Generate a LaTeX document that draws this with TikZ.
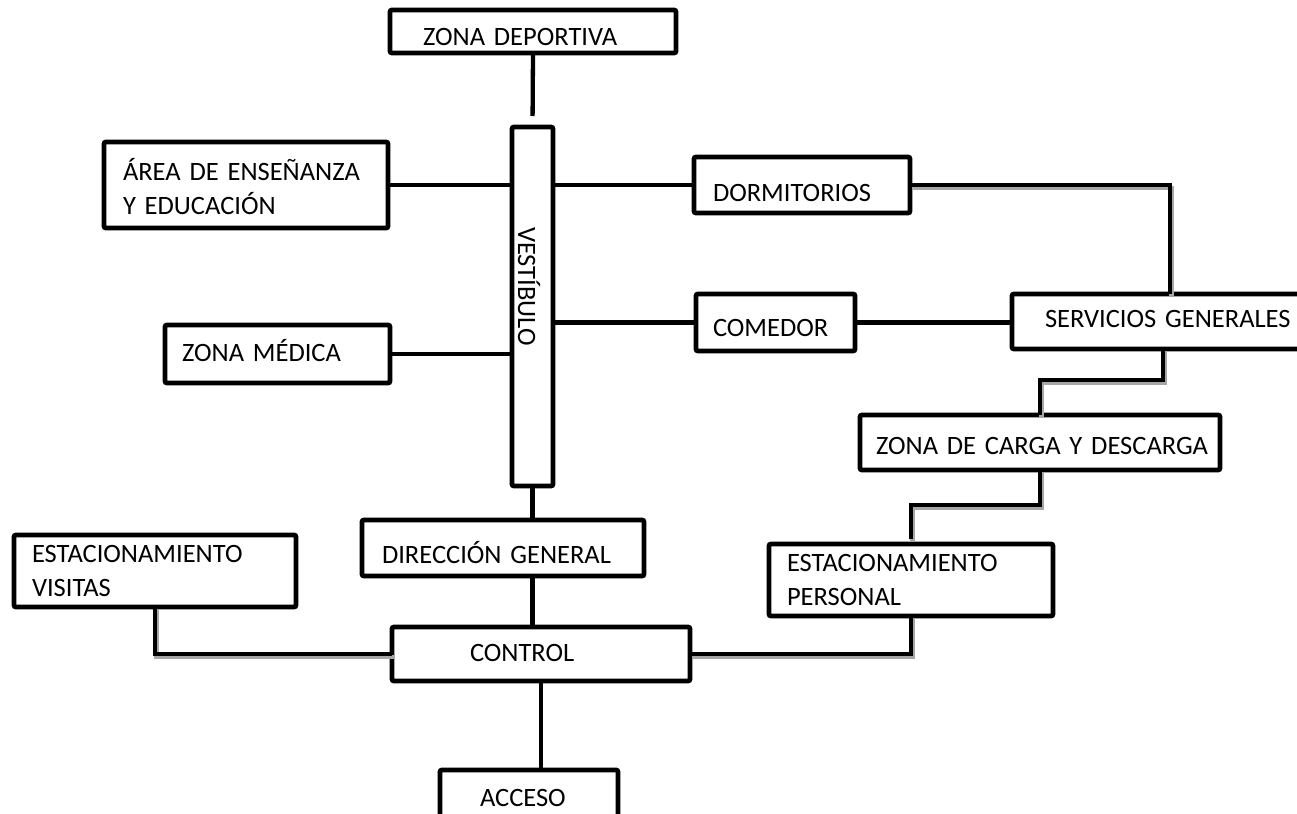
\documentclass[tikz,border=0pt]{standalone}
\usepackage{fontspec}
\setmainfont[WordSpace=0.75]{Carlito}
\newcommand\zonafont{\fontsize{26.5}{34}\selectfont}
\tikzset{
    zona/.style={
           rectangle,
           rounded corners=2pt,
           draw=black, line width=4.8pt,
           anchor=north west,
           align=left,
           inner ysep=0pt,
           outer sep=0pt,
           font=\zonafont,
           },
    link/.style={draw=black, line width=4.3pt},
    dropline/.style={preaction={draw=black!35, line width=4.3pt,
           transform canvas={shift={(1.5pt,-3pt)}}}},
}

\begin{document}
\begin{tikzpicture}[x=1pt,y=-1pt]
 \useasboundingbox (0,0) rectangle (1297,813);

 % central hall, text turned to run downwards
 % (turned node: west is its top end, north its right side)
 \node[zona, anchor=center, rotate=-90,
  inner xsep=100pt, text width=159pt,
  text height=35pt, text depth=6pt] (ves) at (532.5,306.5) {VESTÍBULO};

 % zones around the hall
 \node[zona, inner xsep=33pt, text width=220pt,
  text height=36pt, text depth=7pt] (dep) at (390,10) {ZONA DEPORTIVA};
 \node[zona, inner xsep=19pt, text width=246pt,
  text height=39pt, text depth=47pt] (ens) at (104,142)
  {ÁREA DE ENSEÑANZA\\Y EDUCACIÓN};
 \node[zona, inner xsep=17pt, text width=191pt,
  text height=36.5pt, text depth=21.5pt] (med) at (165,325) {ZONA MÉDICA};
 \node[zona, inner xsep=19pt, text width=178pt,
  text height=44.5pt, text depth=11.5pt] (dor) at (694,157) {DORMITORIOS};
 \node[zona, inner xsep=17pt, text width=125pt,
  text height=42.5pt, text depth=14.5pt] (com) at (696,294) {COMEDOR};

 % service side
 \node[zona, inner xsep=33pt, text width=250pt,
  text height=33.5pt, text depth=21.5pt] (ser) at (1012,294)
  {\mbox{SERVICIOS GENERALES}};
 \node[zona, inner xsep=16pt, text width=328pt,
  text height=39pt, text depth=16pt] (car) at (860,415)
  {\mbox{ZONA DE CARGA Y DESCARGA}};
 \node[zona, inner xsep=18pt, text width=248pt,
  text height=27pt, text depth=45pt] (per) at (769,544)
  {ESTACIONAMIENTO\\PERSONAL};

 % entrance side
 \node[zona, inner xsep=20pt, text width=242pt,
  text height=43.5pt, text depth=12.5pt] (dir) at (362,520) {DIRECCIÓN GENERAL};
 \node[zona, inner xsep=18pt, text width=246pt,
  text height=27.5pt, text depth=44.5pt] (vis) at (14,535)
  {ESTACIONAMIENTO\\VISITAS};
 \node[zona, inner xsep=78pt, text width=142pt,
  text height=34.5pt, text depth=19.5pt] (con) at (392,627) {CONTROL};
 \node[zona, inner xsep=40pt, text width=98pt,
  text height=36.5pt, text depth=23.5pt] (acc) at (440,770) {ACCESO};

 % links
 \draw[link, shorten >=11pt] (dep.south) -- (ves.west);
 \draw[link] (ens.east) -- (ens.east -| ves.south);
 \draw[link] (med.east) -- (med.east -| ves.south);
 \draw[link] (dor.west -| ves.north) -- (dor.west);
 \draw[link] (com.west -| ves.north) -- (com.west);
 \draw[link, dropline] (dor.east) -| (ser.north);
 \draw[link] (com.east) -- (com.east -| ser.west);
 \draw[link, dropline] ([xshift=-7pt]ser.south) -- ++(0,31) -| (car.north);
 \draw[link, dropline, shorten >=5pt] (car.south) -- ++(0,35) -| (per.north);
 \draw[link, dropline] (per.south) |- (con.east);
 \draw[link, dropline] (vis.south) |- (con.west);
 \draw[link] (ves.east) -- (ves.east |- dir.north);
 \draw[link] (ves.east |- dir.south) -- (ves.east |- con.north);
 \draw[link] (con.south) -- (con.south |- acc.north);

\end{tikzpicture}
\end{document}
